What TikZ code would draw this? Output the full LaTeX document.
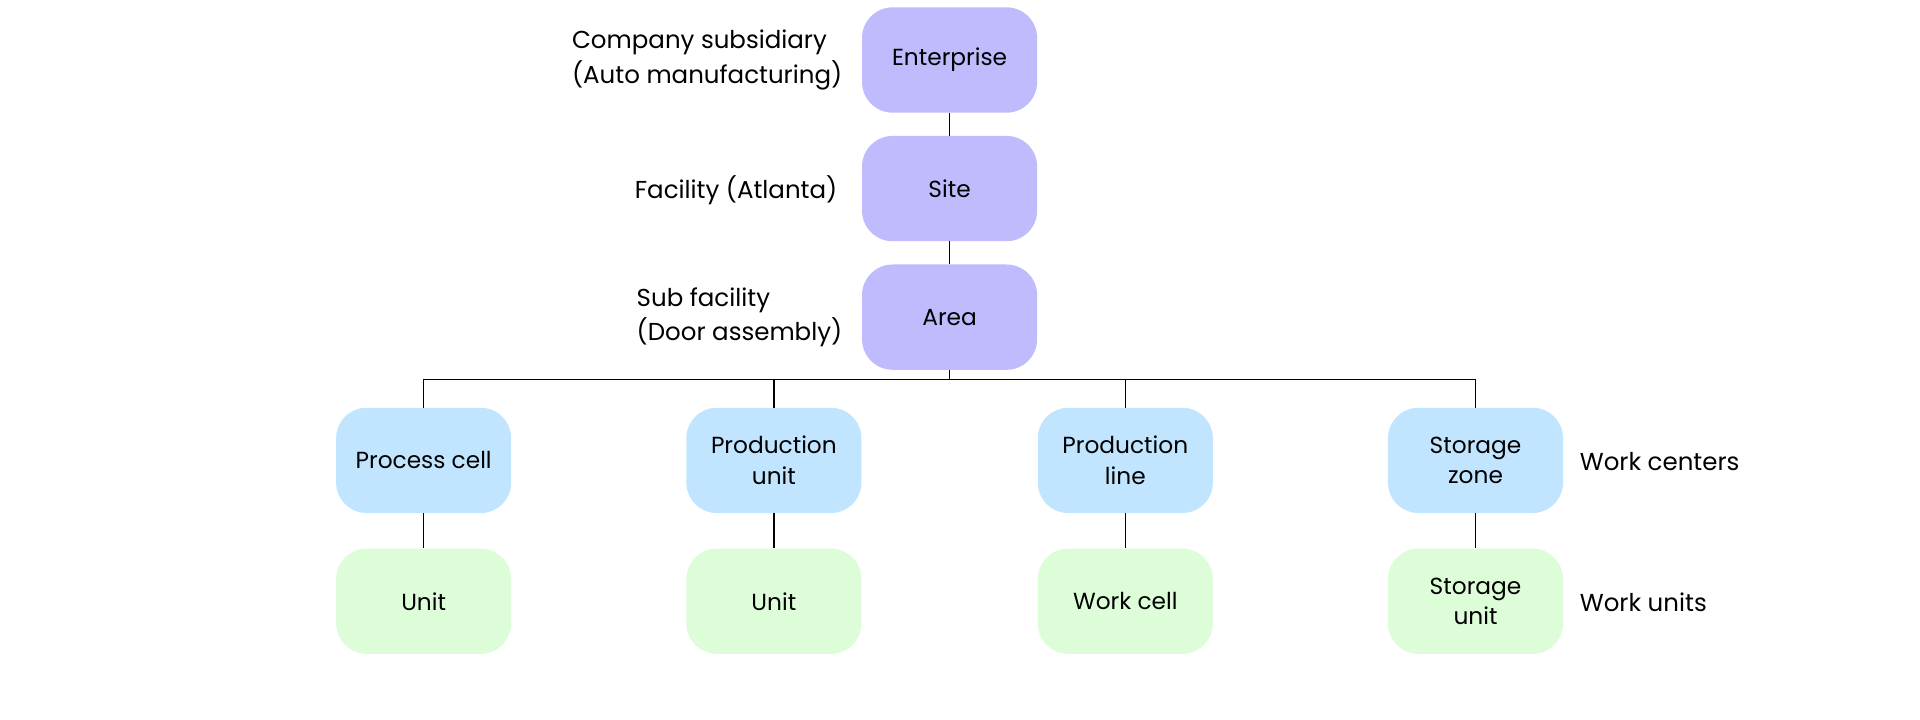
\documentclass[tikz,border=0pt]{standalone}
\usepackage{fontspec}
\setmainfont{Poppins}
\definecolor{cp}{HTML}{BFBBFD}
\definecolor{cb}{HTML}{C2E5FF}
\definecolor{cg}{HTML}{DDFDD9}
\begin{document}
\begin{tikzpicture}[x=1pt,y=-1pt,
  box/.style={rounded corners=25pt,minimum width=143pt,minimum height=86pt,inner sep=2pt,align=center,font=\fontsize{19}{25}\selectfont},
  lab/.style={align=left,font=\fontsize{20}{28}\selectfont,inner sep=0pt},
  ln/.style={line width=1.3pt}]
\useasboundingbox (0,0) rectangle (1568,588);
\node[box,fill=cp] (ent) at (775.5,49) {Enterprise};
\node[box,fill=cp] (site) at (775.5,154) {Site};
\node[box,fill=cp] (area) at (775.5,259) {Area};
\node[box,fill=cb] (b1) at (346,376) {Process cell};
\node[box,fill=cb] (b2) at (632,376) {Production\\unit};
\node[box,fill=cb] (b3) at (919,376) {Production\\line};
\node[box,fill=cb] (b4) at (1205,376) {Storage\\zone};
\node[box,fill=cg] (g1) at (346,491) {Unit};
\node[box,fill=cg] (g2) at (632,491) {Unit};
\node[box,fill=cg] (g3) at (919,491) {Work cell};
\node[box,fill=cg] (g4) at (1205,491) {Storage\\unit};
\node[lab,anchor=east] (l1) at (688,49) {Company subsidiary\\(Auto manufacturing)};
\node[lab,anchor=east] (l2) at (684,155) {Facility (Atlanta)};
\node[lab,anchor=east] (l3) at (688,259) {Sub facility\\(Door assembly)};
\node[lab,anchor=west] (l4) at (1290,377) {Work centers};
\node[lab,anchor=west] (l5) at (1290,492) {Work units};
\coordinate (bus) at (775.5,310);
\draw[ln] (ent) -- (site);
\draw[ln] (site) -- (area);
\draw[ln] (area) -- (bus);
\draw[ln] (b1.north) |- (bus) -| (b4.north);
\draw[ln] (b2.north) -- (b2.north |- bus);
\draw[ln] (b3.north) -- (b3.north |- bus);
\foreach \i in {1,2,3,4} \draw[ln] (b\i) -- (g\i);
\end{tikzpicture}
\end{document}
